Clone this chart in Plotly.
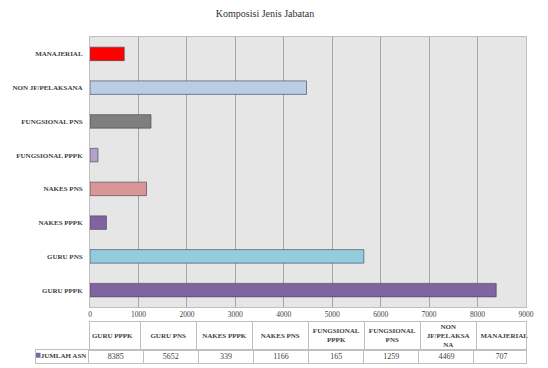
import plotly.graph_objects as go

categories = ["GURU PPPK", "GURU PNS", "NAKES PPPK", "NAKES PNS",
              "FUNGSIONAL PPPK", "FUNGSIONAL PNS", "NON JF/PELAKSANA", "MANAJERIAL"]
values = [8385, 5652, 339, 1166, 165, 1259, 4469, 707]
bar_colors = ["#8064A2", "#93CDDD", "#8064A2", "#D99694",
              "#B3A2C7", "#7F7F7F", "#B9CDE5", "#FF0000"]
table_headers = ["GURU PPPK", "GURU PNS", "NAKES PPPK", "NAKES PNS",
                 "FUNGSIONAL<br>PPPK", "FUNGSIONAL<br>PNS", "NON<br>JF/PELAKSA<br>NA", "MANAJERIAL"]
series_name = "JUMLAH ASN"
series_color = "#8064A2"
x_ticks = [0, 1000, 2000, 3000, 4000, 5000, 6000, 7000, 8000, 9000]

W, H = 548, 368
FONT = "Liberation Serif"
TXT = "#404040"
BORDER = "#BFBFBF"

fig = go.Figure()

# main horizontal bar chart
fig.add_trace(go.Bar(
    y=categories, x=values, orientation="h",
    marker=dict(color=bar_colors, line=dict(color="rgba(70,70,90,0.65)", width=1)),
    width=0.4, showlegend=False, xaxis="x", yaxis="y", hoverinfo="x+y",
))

# data table: header row (x3/y3) and value row (x2/y2)
fig.add_trace(go.Scatter(
    x=categories, y=[0.5] * len(categories), mode="text",
    text=["<b>%s</b>" % h for h in table_headers], textposition="middle center",
    textfont=dict(family=FONT, size=7, color=TXT),
    xaxis="x3", yaxis="y3", showlegend=False, hoverinfo="skip", cliponaxis=False,
))
row_keys = [series_name] + categories
row_text = (["<span style='color:%s;font-size:10px'>■</span><b>%s</b>" % (series_color, series_name)]
            + [str(v) for v in values])
fig.add_trace(go.Scatter(
    x=row_keys, y=[0.5] * len(row_keys), mode="text",
    text=row_text, textposition="middle center",
    textfont=dict(family=FONT, size=[7] + [8] * len(values), color=TXT),
    xaxis="x2", yaxis="y2", showlegend=False, hoverinfo="skip", cliponaxis=False,
))

cw = (526 - 36) / (len(categories) + 1)

fig.update_layout(
    width=W, height=H,
    margin=dict(l=0, r=0, t=0, b=0, autoexpand=False),
    paper_bgcolor="white", plot_bgcolor="white",
    title=dict(text="Komposisi Jenis Jabatan", x=265 / W, xanchor="center",
               y=1 - 13 / H, yanchor="middle", automargin=False,
               font=dict(family=FONT, size=10, color="#303030")),
    xaxis=dict(domain=[90 / W, 526 / W], range=[0, 9000], tickvals=x_ticks,
               showgrid=True, gridcolor="#A6A6A6", gridwidth=1, automargin=False,
               showline=True, linecolor=BORDER, mirror=True, zeroline=False,
               ticks="", tickfont=dict(family=FONT, size=7.5, color=TXT),
               anchor="y", fixedrange=True),
    yaxis=dict(domain=[1 - 307 / H, 1 - 37 / H], showgrid=False, automargin=False,
               showline=True, linecolor=BORDER, mirror=True,
               ticks="", ticklabelstandoff=5,
               tickfont=dict(family=FONT, size=7, color=TXT),
               tickprefix="<b>", ticksuffix="</b>",
               anchor="x", fixedrange=True),
    xaxis2=dict(domain=[36 / W, 526 / W], type="category",
                categoryorder="array", categoryarray=row_keys,
                tickson="boundaries", showgrid=True, gridcolor=BORDER,
                showticklabels=False, ticks="", showline=True, linecolor=BORDER,
                mirror=True, zeroline=False, automargin=False, anchor="y2", fixedrange=True),
    yaxis2=dict(domain=[1 - 363 / H, 1 - 350 / H], range=[0, 1], showgrid=False,
                showticklabels=False, ticks="", showline=True, linecolor=BORDER,
                mirror=True, zeroline=False, automargin=False, anchor="x2", fixedrange=True),
    xaxis3=dict(domain=[(36 + cw) / W, 526 / W], type="category",
                categoryorder="array", categoryarray=categories,
                tickson="boundaries", showgrid=True, gridcolor=BORDER,
                showticklabels=False, ticks="", showline=True, linecolor=BORDER,
                mirror=True, zeroline=False, automargin=False, anchor="y3", fixedrange=True),
    yaxis3=dict(domain=[1 - 350 / H, 1 - 322 / H], range=[0, 1], showgrid=False,
                showticklabels=False, ticks="", showline=True, linecolor=BORDER,
                mirror=True, zeroline=False, automargin=False, anchor="x3", fixedrange=True),
    shapes=[dict(type="rect", xref="x domain", yref="y domain", x0=0, x1=1, y0=0, y1=1,
                 fillcolor="#E6E6E6", line=dict(width=0), layer="below")],
)

fig.write_html("out.html", config={"displayModeBar": False},
               post_script="document.body.style.margin='0px';document.body.style.overflow='hidden';")
